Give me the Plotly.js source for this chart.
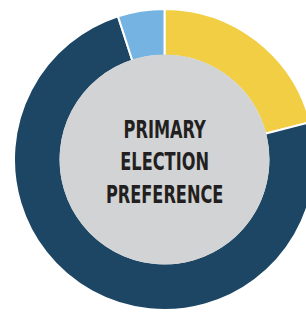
<!DOCTYPE html>
<html>
<head>
<meta charset="utf-8">
<script src="https://cdn.plot.ly/plotly-3.0.1.min.js"></script>
<style>
html,body{margin:0;padding:0;overflow:hidden;background:#fff;width:306px;height:312px;}
#chart{width:329px;height:312px;}
</style>
</head>
<body>
<div id="chart"></div>
<script>
const categories = ["Candidate A", "Candidate B", "Undecided"];
const shares = [21, 74, 5];
const sliceColors = ["#F2CE45", "#1D4665", "#74B3E2"];
const centerLabel = ["PRIMARY", "ELECTION", "PREFERENCE"];

const W = 329, H = 312, mt = 9, mb = 2;
const plotH = H - mt - mb;
const innerR = 105;

const data = [{
  type: "pie",
  labels: categories,
  values: shares,
  sort: false,
  direction: "clockwise",
  rotation: 0,
  hole: 0.69,
  textinfo: "none",
  hoverinfo: "label+percent",
  marker: {colors: sliceColors, line: {color: "#ffffff", width: 2}},
  showlegend: false
}];

const layout = {
  width: W, height: H,
  margin: {l: 0, r: 0, t: mt, b: mb, pad: 0},
  paper_bgcolor: "#ffffff",
  shapes: [{
    type: "circle", xref: "paper", yref: "paper", layer: "above",
    x0: 0.5 - innerR / W, x1: 0.5 + innerR / W,
    y0: 0.5 - innerR / plotH, y1: 0.5 + innerR / plotH,
    fillcolor: "#D1D3D4", line: {width: 0}
  }],
  annotations: [{
    xref: "paper", yref: "paper", x: 0.5, y: 0.5, yshift: -2,
    showarrow: false, align: "center",
    text: centerLabel.map(s => "<b>" + s + "</b>").join("<br>"),
    font: {family: "'Liberation Sans Narrow', 'DejaVu Sans Condensed', sans-serif", size: 25, color: "#231F20"}
  }]
};

Plotly.newPlot("chart", data, layout, {displayModeBar: false, staticPlot: true}).then(function () {
  document.querySelectorAll("#chart .annotation-text").forEach(function (t) {
    const b = t.getBBox();
    const cx = b.x + b.width / 2;
    t.setAttribute("transform", "translate(" + cx + ",0) scale(0.72,1) translate(" + (-cx) + ",0)");
  });
});
</script>
</body>
</html>
